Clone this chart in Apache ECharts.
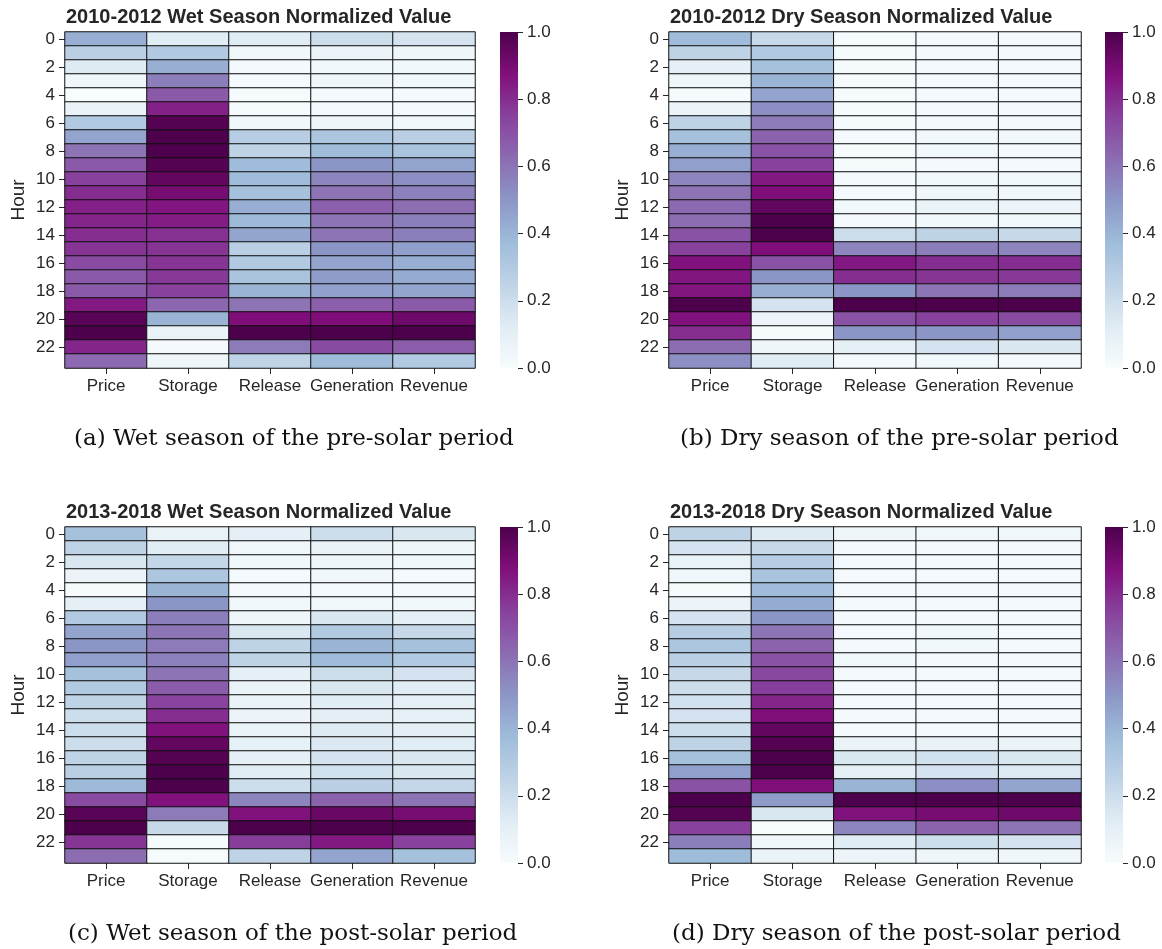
<!DOCTYPE html>
<html>
<head>
<meta charset="utf-8">
<script src="https://cdn.jsdelivr.net/npm/echarts@6/dist/echarts.min.js"></script>
<style>
  html, body { margin: 0; padding: 0; background: #ffffff; }
  #chart { width: 1162px; height: 949px; }
</style>
</head>
<body>
<div id="chart"></div>
<script>
// Row and column categories
const hours = ['0','1','2','3','4','5','6','7','8','9','10','11','12','13','14','15','16','17','18','19','20','21','22','23'];
const variables = ['Price', 'Storage', 'Release', 'Generation', 'Revenue'];

// 2010-2012, wet season (normalized hourly profiles)
const preWetPrice      = [0.42,0.27,0.13,0.04,0.00,0.07,0.30,0.45,0.60,0.68,0.75,0.80,0.83,0.82,0.80,0.78,0.72,0.68,0.68,0.85,0.97,1.00,0.82,0.63];
const preWetStorage    = [0.12,0.30,0.42,0.57,0.68,0.83,0.98,1.00,1.00,0.98,0.95,0.90,0.86,0.84,0.79,0.78,0.78,0.77,0.75,0.64,0.40,0.08,0.02,0.05];
const preWetRelease    = [0.12,0.03,0.02,0.02,0.01,0.01,0.03,0.28,0.25,0.37,0.37,0.35,0.42,0.38,0.45,0.27,0.30,0.33,0.40,0.60,0.88,1.00,0.58,0.25];
const preWetGeneration = [0.20,0.06,0.03,0.05,0.02,0.02,0.05,0.32,0.37,0.50,0.55,0.60,0.66,0.60,0.60,0.50,0.45,0.48,0.47,0.66,0.88,1.00,0.72,0.37];
const preWetRevenue    = [0.17,0.05,0.03,0.03,0.02,0.02,0.04,0.27,0.33,0.45,0.52,0.56,0.62,0.57,0.57,0.47,0.42,0.43,0.45,0.68,0.92,1.00,0.67,0.30];

// 2010-2012, dry season
const preDryPrice      = [0.37,0.25,0.10,0.05,0.01,0.06,0.25,0.35,0.42,0.47,0.55,0.60,0.63,0.62,0.70,0.75,0.87,0.86,0.86,1.00,0.87,0.80,0.62,0.52];
const preDryStorage    = [0.22,0.30,0.35,0.40,0.45,0.52,0.58,0.65,0.70,0.75,0.85,0.88,0.95,1.00,1.00,0.88,0.70,0.50,0.42,0.17,0.06,0.01,0.05,0.12];
const preDryRelease    = [0.01,0.01,0.01,0.01,0.01,0.01,0.01,0.02,0.01,0.01,0.02,0.02,0.03,0.02,0.20,0.55,0.85,0.80,0.50,1.00,0.70,0.50,0.10,0.02];
const preDryGeneration = [0.02,0.02,0.02,0.02,0.02,0.02,0.02,0.03,0.03,0.02,0.03,0.04,0.07,0.03,0.25,0.57,0.80,0.78,0.60,1.00,0.75,0.50,0.17,0.03];
const preDryRevenue    = [0.02,0.02,0.02,0.02,0.02,0.02,0.02,0.03,0.02,0.02,0.03,0.03,0.06,0.03,0.22,0.55,0.80,0.77,0.58,1.00,0.72,0.47,0.15,0.02];

// 2013-2018, wet season
const postWetPrice      = [0.35,0.25,0.15,0.06,0.01,0.10,0.30,0.45,0.50,0.47,0.35,0.30,0.25,0.20,0.20,0.20,0.25,0.27,0.38,0.72,0.97,1.00,0.78,0.62];
const postWetStorage    = [0.08,0.12,0.23,0.32,0.40,0.50,0.57,0.60,0.58,0.56,0.60,0.67,0.74,0.80,0.87,0.95,0.98,1.00,1.00,0.87,0.58,0.22,0.01,0.01];
const postWetRelease    = [0.10,0.04,0.03,0.02,0.02,0.03,0.05,0.15,0.25,0.25,0.10,0.07,0.07,0.06,0.08,0.09,0.10,0.12,0.20,0.55,0.87,1.00,0.76,0.25];
const postWetGeneration = [0.20,0.08,0.05,0.03,0.02,0.04,0.15,0.30,0.40,0.37,0.20,0.15,0.12,0.11,0.13,0.14,0.17,0.18,0.27,0.65,0.93,1.00,0.85,0.45];
const postWetRevenue    = [0.15,0.05,0.04,0.02,0.02,0.03,0.10,0.22,0.35,0.30,0.17,0.12,0.10,0.09,0.11,0.12,0.15,0.15,0.23,0.60,0.90,1.00,0.75,0.35];

// 2013-2018, dry season
const postDryPrice      = [0.25,0.17,0.08,0.04,0.01,0.06,0.17,0.28,0.32,0.27,0.22,0.20,0.18,0.17,0.20,0.25,0.35,0.47,0.70,1.00,0.98,0.75,0.57,0.37];
const postDryStorage    = [0.13,0.22,0.28,0.33,0.37,0.43,0.50,0.60,0.65,0.70,0.73,0.76,0.82,0.88,0.95,0.98,1.00,1.00,0.88,0.48,0.15,0.00,0.03,0.07];
const postDryRelease    = [0.05,0.02,0.02,0.02,0.02,0.02,0.02,0.02,0.02,0.03,0.02,0.02,0.02,0.02,0.02,0.07,0.15,0.10,0.40,1.00,0.87,0.55,0.12,0.06];
const postDryGeneration = [0.04,0.02,0.02,0.02,0.02,0.02,0.02,0.03,0.03,0.02,0.02,0.02,0.02,0.02,0.02,0.08,0.18,0.17,0.52,1.00,0.90,0.65,0.20,0.05];
const postDryRevenue    = [0.04,0.02,0.02,0.02,0.02,0.02,0.02,0.02,0.02,0.02,0.02,0.02,0.02,0.02,0.02,0.07,0.15,0.14,0.45,1.00,0.92,0.60,0.17,0.04];

// Colorbar tick values
const colorbarTicks = [0.0, 0.2, 0.4, 0.6, 0.8, 1.0];

// BuPu sequential palette, low -> high
const buPu = ['#f7fcfd','#e0ecf4','#bfd3e6','#9ebcda','#8c96c6','#8c6bb1','#88419d','#810f7c','#4d004b'];

const panels = [
  { title: '2010-2012 Wet Season Normalized Value', caption: '(a) Wet season of the pre-solar period',
    columns: [preWetPrice, preWetStorage, preWetRelease, preWetGeneration, preWetRevenue],
    left: 65, top: 32, width: 410, cbLeft: 500, titleLeft: 66, capLeft: 74 },
  { title: '2010-2012 Dry Season Normalized Value', caption: '(b) Dry season of the pre-solar period',
    columns: [preDryPrice, preDryStorage, preDryRelease, preDryGeneration, preDryRevenue],
    left: 669, top: 32, width: 412, cbLeft: 1105, titleLeft: 670, capLeft: 680 },
  { title: '2013-2018 Wet Season Normalized Value', caption: '(c) Wet season of the post-solar period',
    columns: [postWetPrice, postWetStorage, postWetRelease, postWetGeneration, postWetRevenue],
    left: 65, top: 527, width: 410, cbLeft: 500, titleLeft: 66, capLeft: 68 },
  { title: '2013-2018 Dry Season Normalized Value', caption: '(d) Dry season of the post-solar period',
    columns: [postDryPrice, postDryStorage, postDryRelease, postDryGeneration, postDryRevenue],
    left: 669, top: 527, width: 412, cbLeft: 1105, titleLeft: 670, capLeft: 672 }
];

const plotHeight = 336;
const cbWidth = 18;
const ink = '#262626';
const sansFont = '"Liberation Sans", Arial, sans-serif';
const tickFont = 17;

const grid = [], xAxis = [], yAxis = [], series = [], graphic = [];

panels.forEach((p, i) => {
  // heatmap grid
  grid.push({ left: p.left, top: p.top, width: p.width, height: plotHeight, show: false });
  xAxis.push({
    type: 'category', data: variables, gridIndex: i, position: 'bottom',
    axisLine: { show: false },
    axisTick: { show: true, alignWithLabel: true, length: 6, lineStyle: { color: ink, width: 1 } },
    axisLabel: { interval: 0, color: ink, fontSize: tickFont, fontFamily: sansFont, margin: 10 },
    splitLine: { show: false }
  });
  yAxis.push({
    type: 'category', data: hours, gridIndex: i, inverse: true,
    name: 'Hour', nameLocation: 'middle', nameGap: 37,
    nameTextStyle: { color: ink, fontSize: 19, fontFamily: sansFont },
    axisLine: { show: false },
    axisTick: { show: true, alignWithLabel: true, interval: 1, length: 6, lineStyle: { color: ink, width: 1 } },
    axisLabel: { interval: 1, color: ink, fontSize: tickFont, fontFamily: sansFont, margin: 10 },
    splitLine: { show: false }
  });
  const cells = [];
  p.columns.forEach((col, c) => col.forEach((v, h) => cells.push([c, h, v])));
  series.push({
    type: 'heatmap', xAxisIndex: i, yAxisIndex: i, data: cells,
    itemStyle: { borderColor: '#111111', borderWidth: 1 },
    emphasis: { disabled: true },
    label: { show: false }
  });
  graphic.push({
    type: 'text', left: p.titleLeft, top: p.top - 25,
    style: { text: p.title, font: 'bold 20px ' + sansFont, fill: ink }
  });
  graphic.push({
    type: 'text', left: p.capLeft, top: p.top + plotHeight + 60,
    style: { text: p.caption, font: '23px "DejaVu Serif", "Liberation Serif", serif', fill: '#111111' }
  });
});

// colorbar grids: gradient background with a value axis for ticks
panels.forEach((p, i) => {
  const gi = panels.length + i;
  grid.push({
    left: p.cbLeft, top: p.top, width: cbWidth, height: plotHeight, show: true, borderWidth: 0,
    backgroundColor: {
      type: 'linear', x: 0, y: 0, x2: 0, y2: 1,
      colorStops: buPu.slice().reverse().map((c, k) => ({ offset: k / (buPu.length - 1), color: c }))
    }
  });
  xAxis.push({ type: 'category', gridIndex: gi, show: false, data: [''] });
  yAxis.push({
    type: 'value', gridIndex: gi, position: 'right',
    min: colorbarTicks[0], max: colorbarTicks[colorbarTicks.length - 1], interval: 0.2,
    axisLine: { show: false },
    axisTick: { show: true, length: 5, lineStyle: { color: ink, width: 1 } },
    axisLabel: { color: ink, fontSize: tickFont, fontFamily: sansFont, margin: 9, formatter: v => v.toFixed(1) },
    splitLine: { show: false }
  });
});

const chart = echarts.init(document.getElementById('chart'), null, { renderer: 'canvas' });
chart.setOption({
  backgroundColor: '#ffffff',
  animation: false,
  grid, xAxis, yAxis, series, graphic,
  visualMap: {
    type: 'continuous', show: false, min: 0, max: 1,
    seriesIndex: [0, 1, 2, 3],
    inRange: { color: buPu }
  }
});
</script>
</body>
</html>
